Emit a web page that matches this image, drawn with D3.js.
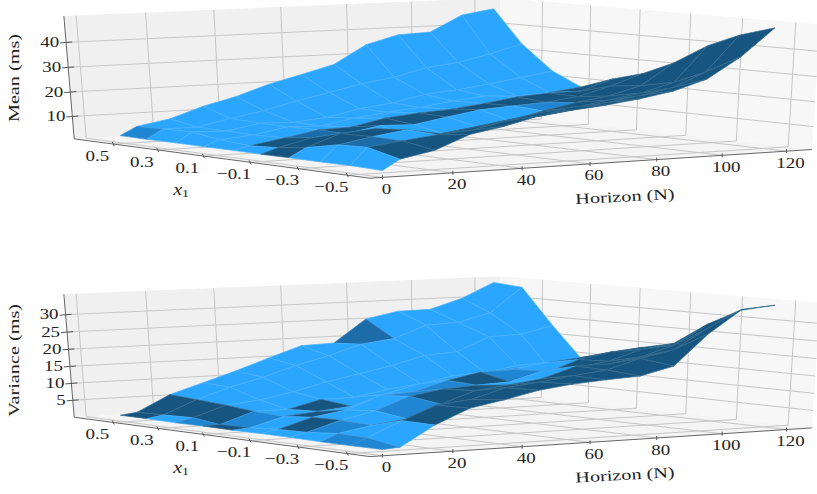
<!DOCTYPE html>
<html><head><meta charset="utf-8">
<style>html,body{margin:0;padding:0;background:#fff}svg{display:block}</style>
<script src="https://cdn.jsdelivr.net/npm/d3@7"></script></head><body>
<svg id="c" width="817" height="494"></svg>
<script>
const horizonGrid=[5,10,20,30,40,50,60,70,80,90,100,110,120];
const x1Grid=[0.6,0.48,0.35,0.23,0.1,-0.02,-0.14,-0.27,-0.39,-0.52];
const horizonTicks=[0,20,40,60,80,100,120];
const x1Ticks=[0.5,0.3,0.1,-0.1,-0.3,-0.5];
const meanTicks=[10,20,30,40];
const varTicks=[5,10,15,20,25,30];
const meanZ=[
[2.3,2.2,2.3,2.2,2.3,2.2,2.3,2.2,2.3,2.0],
[5.7,6,6.3,4.6,3.7,4.4,5.9,8.5,9,6],
[8.1,6,5.9,5.7,6,7.5,10.6,10.9,10.7,8.6],
[12.5,8.8,8.3,8.2,8.5,8.3,11.8,12.8,12.3,13.9],
[15.8,11.3,7.9,7.8,8.9,10.8,8,10.5,13.2,16.3],
[20.2,14.5,9.1,10.2,11.7,10.4,8.2,12.3,16,19.5],
[23.5,17.3,12,11.9,13,12.7,10.2,14.4,18.4,22.3],
[27,20.2,13.6,13.1,13.8,14.9,11.8,15.3,18.9,22.3],
[34.5,22.2,16.4,15,15.4,15.7,15,17.8,21,24],
[38,25.5,17.6,16.3,17.3,16.4,17.6,20,23,26.3],
[38.5,27,19.3,15.6,18.2,18,19.5,22.1,25.5,30.3],
[45,29.9,21.3,16.3,18.2,21.6,23,25.7,31.1,38.3],
[47,33.5,23.4,17.9,22.6,26,31.5,39.7,45,49]];
const varZ=[
[.7,.7,.6,.7,.6,.7,.7,.6,.6,.7],
[1.3,1.5,1.8,.8,1,1.6,1.8,2.6,2.5,1],
[6,5.5,4.9,4.1,3.7,4.5,4.7,4.4,6.7,6.6],
[9,8.6,5.9,4.1,4.6,6,6.8,5.6,10.5,10.7],
[12,11,7.7,6.5,5.5,9.6,10.4,9.2,11.5,12.5],
[15.3,14,10.1,6.5,8.5,10.2,11.9,12.5,14.3,14.6],
[18.5,16.4,12,8.3,10.9,12.9,12.5,13.6,15.3,15.8],
[18.8,19.3,13.9,9.4,11.7,14.8,12.9,14.9,16.6,16.5],
[25.5,20.5,16.4,11.2,13.4,15,15.6,17.9,17.7,17],
[27.4,24,17,11.7,13.9,13.5,16,18,20.5,19.3],
[27.5,24.4,21,13.3,15.2,16.9,17.3,19.6,22.4,27.8],
[30.4,26.8,21.3,12,16.1,18.6,20.2,22.5,27.9,34.3],
[34.7,34,23.4,14.4,16.7,19.5,21.5,28,32.7,35]];
// facet shading: 0 lit .. 3 unlit
const meanShade=[
[1,0,0,0,0,3,0,0,0],
[0,0,0,0,3,3,3,2,3],
[0,0,0,0,2,0,3,0,3],
[0,0,0,0,3,0,0,3,3],
[0,0,0,0,3,0,3,3,3],
[0,0,0,0,3,0,3,3,3],
[0,0,0,0,3,0,3,3,3],
[0,0,0,0,3,0,3,3,3],
[0,0,0,0,3,1,3,3,3],
[0,0,0,0,3,3,3,3,3],
[0,0,0,0,3,3,3,3,3],
[0,0,0,3,3,3,3,3,3]];
const varShade=[
[3,0,1,3,0,0,0,1,1],
[3,3,3,1,0,3,1,0,0],
[0,0,0,0,3,0,0,3,3],
[0,0,0,3,0,0,1,3,3],
[0,0,0,0,0,1,3,3,3],
[0,0,0,0,0,1,3,3,3],
[0,0,0,0,0,3,0,3,3],
[2,0,0,0,0,1,0,3,3],
[0,0,0,0,1,0,3,3,3],
[0,0,0,0,0,3,3,3,3],
[0,0,0,0,3,3,3,3,3],
[0,0,0,3,3,3,3,3,3]];

const shadeColor=d3.scaleOrdinal().domain([0,1,2,3]).range(["#2ba6ff","#2085d2","#1b6ca8","#15557f"]);
const nScale=d3.scaleLinear().domain([-3.5,128]).range([0,1]);
const xScale=d3.scaleLinear().domain([0.68,-0.59]).range([0,1]);

// camera: cube corner -> page position, solved as a projective map
const cubeCorners=[[0,0,0,75,139],[0,1,0,370,178],[1,1,0,813,150],[1,0,0,498,114],[0,0,1,63,16],[1,0,1,502,-2],[1,1,1,819,24]];
function solve(rows){
  const n=11,A=d3.range(n).map(()=>new Array(n+1).fill(0));
  rows.forEach(r=>{for(let i=0;i<n;i++){for(let j=0;j<n;j++)A[i][j]+=r[i]*r[j];A[i][n]+=r[i]*r[n];}});
  for(let i=0;i<n;i++){let p=i;for(let k=i+1;k<n;k++)if(Math.abs(A[k][i])>Math.abs(A[p][i]))p=k;[A[i],A[p]]=[A[p],A[i]];
    for(let k=0;k<n;k++){if(k===i)continue;const f=A[k][i]/A[i][i];for(let j=i;j<=n;j++)A[k][j]-=f*A[i][j];}}
  return A.map((r,i)=>r[n]/r[i]);
}
const eqs=[];cubeCorners.forEach(([a,b,c,u,v])=>{
  eqs.push([a,b,c,1,0,0,0,0,-u*a,-u*b,-u*c,u]);
  eqs.push([0,0,0,0,a,b,c,1,-v*a,-v*b,-v*c,v]);});
const P=solve(eqs);
function cube(a,b,c){const w=P[8]*a+P[9]*b+P[10]*c+1;return [(P[0]*a+P[1]*b+P[2]*c+P[3])/w,(P[4]*a+P[5]*b+P[6]*c+P[7])/w];}
const line=d3.line();
const svg=d3.select("#c");
const SERIF="'Liberation Serif',serif";
function label(g,x,y,txt,o={}){
  const t=g.append("text").attr("transform",`translate(${x},${y}) rotate(${o.rot||0}) scale(${o.sx||1.22},1)`)
   .attr("text-anchor",o.anchor||"middle").attr("dominant-baseline","middle")
   .attr("font-family",SERIF).attr("font-size",o.size||15.5).attr("fill","#222");
  return t.text(txt);
}
const fmt=v=>(v<0?"\u2212":"")+Math.abs(v);

function panel(dy,zDomain,zTicks,Z,shade,zTitle,zTitleY){
  const g=svg.append("g").attr("transform",`translate(0,${dy})`);
  const zS=d3.scaleLinear().domain(zDomain).range([0,1]);
  const p=(n,x,z)=>cube(nScale(n),xScale(x),zS(z));
  const [n0,n1]=nScale.domain(),[x0,x1]=xScale.domain(),[z0,z1]=zDomain;
  const poly=(pts,f)=>g.append("path").attr("d",line(pts)+"Z").attr("fill",f);
  poly([p(n0,x0,z0),p(n1,x0,z0),p(n1,x0,z1),p(n0,x0,z1)],"#f0f0f0");
  poly([p(n1,x0,z0),p(n1,x1,z0),p(n1,x1,z1),p(n1,x0,z1)],"#f7f7f7");
  poly([p(n0,x0,z0),p(n1,x0,z0),p(n1,x1,z0),p(n0,x1,z0)],"#f4f4f4");
  const gl=pts=>g.append("path").attr("d",line(pts)).attr("fill","none").attr("stroke","#c6c6c6").attr("stroke-width",1);
  zTicks.forEach(z=>gl([p(n0,x0,z),p(n1,x0,z),p(n1,x1,z)]));
  horizonTicks.forEach(n=>gl([p(n,x1,z0),p(n,x0,z0),p(n,x0,z1)]));
  x1Ticks.forEach(x=>gl([p(n0,x,z0),p(n1,x,z0),p(n1,x,z1)]));
  const ax=pts=>g.append("path").attr("d",line(pts)).attr("fill","none").attr("stroke","#666").attr("stroke-width",1);
  ax([p(n0,x0,z0),p(n0,x1,z0),p(n1,x1,z0)]);
  ax([p(n0,x0,z0),p(n0,x0,z1)]);
  const cells=[];
  for(let i=0;i<horizonGrid.length-1;i++)for(let j=0;j<x1Grid.length-1;j++){
    const nm=(horizonGrid[i]+horizonGrid[i+1])/2,xm=(x1Grid[j]+x1Grid[j+1])/2;
    cells.push({i,j,depth:p(nm,xm,z0)[1]});
  }
  cells.sort((a,b)=>d3.ascending(a.depth,b.depth));
  g.append("g").selectAll("path").data(cells).join("path")
   .attr("d",d=>line([[d.i,d.j],[d.i+1,d.j],[d.i+1,d.j+1],[d.i,d.j+1]].map(([a,b])=>p(horizonGrid[a],x1Grid[b],Z[a][b])))+"Z")
   .attr("fill",d=>shadeColor(shade[d.i][d.j]))
   .attr("stroke",d=>d3.interpolateRgb(shadeColor(shade[d.i][d.j]),"#fff")(0.14))
   .attr("stroke-width",0.7).attr("stroke-linejoin","round");
  const tk=(a,b)=>g.append("path").attr("d",line([a,b])).attr("stroke","#555").attr("stroke-width",1);
  zTicks.forEach(z=>{const q=p(n0,x0,z);tk([q[0]-6,q[1]+.6],[q[0]+6,q[1]-.3]);label(g,q[0]-7,q[1]+1,String(z),{anchor:"end"});});
  x1Ticks.forEach(x=>{const q=p(n0,x,z0);tk([q[0]-1,q[1]-2],[q[0]+1,q[1]+2]);label(g,q[0]-16,q[1]+13,fmt(x));});
  horizonTicks.forEach(n=>{const q=p(n,x1,z0);tk([q[0],q[1]-2],[q[0],q[1]+2]);label(g,q[0]+4,q[1]+13,String(n));});
  label(g,16,zTitleY,zTitle,{rot:-90,size:15,sx:1.35});
  label(g,625,198,"Horizon (N)",{rot:-3,size:15,sx:1.35});
  const xl=g.append("text").attr("transform","translate(181,191) scale(1.25,1)").attr("text-anchor","middle").attr("dominant-baseline","middle")
    .attr("font-family",SERIF).attr("font-style","italic").attr("font-size",16).attr("fill","#222");
  xl.append("tspan").text("x");
  xl.append("tspan").attr("font-size",11).attr("dy",3).attr("font-style","normal").text("1");
}
panel(0,[0.7,50.5],meanTicks,meanZ,meanShade,"Mean (ms)",78);
panel(278.4,[-0.1,35.8],varTicks,varZ,varShade,"Variance (ms)",82);
</script></body></html>
